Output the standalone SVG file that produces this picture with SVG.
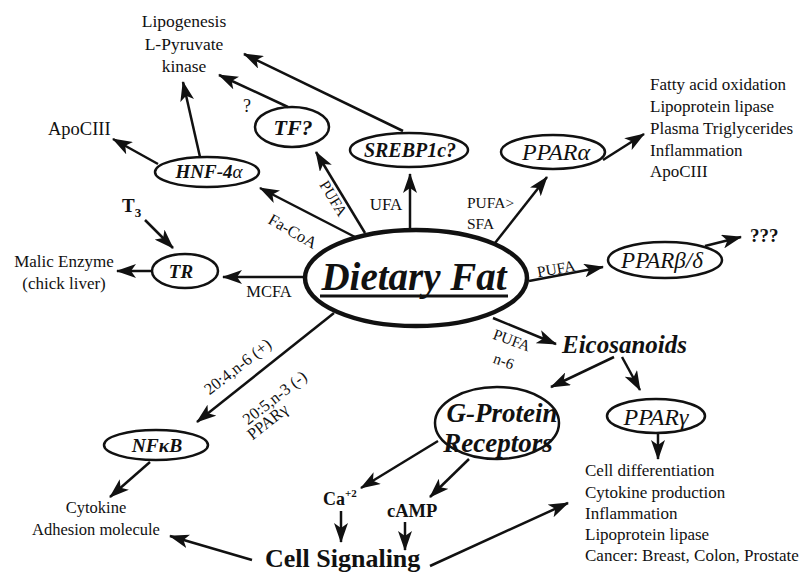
<svg xmlns="http://www.w3.org/2000/svg" width="804" height="574" viewBox="0 0 804 574">
<style>
text{font-family:"Liberation Serif",serif;fill:#111}
.n{fill:none;stroke:#111;stroke-width:2.5}
.l{stroke:#111;stroke-width:2.5;fill:none;marker-end:url(#ah)}
.bi{font-weight:bold;font-style:italic}
.i{font-style:italic}
.b{font-weight:bold}
.m{text-anchor:middle}
.lab{font-size:15.5px}
.lst{font-size:17px}
</style>
<defs>
<marker id="ah" viewBox="0 0 20 14" refX="19" refY="7" markerWidth="20" markerHeight="14" orient="auto" markerUnits="userSpaceOnUse">
<path d="M0,0 L20,7 L0,14 L5,7 Z" fill="#111"/>
</marker>
</defs>
<rect width="804" height="574" fill="#fff"/>

<g id="connectors">
<line class="l" x1="365" y1="233" x2="316" y2="152"/>
<line class="l" x1="355" y1="237" x2="260" y2="188"/>
<line class="l" x1="410" y1="230" x2="410" y2="174"/>
<line class="l" x1="495" y1="243" x2="547" y2="177"/>
<line class="l" x1="529" y1="281" x2="603" y2="267"/>
<line class="l" x1="493" y1="318" x2="556" y2="344"/>
<line class="l" x1="305" y1="277" x2="223" y2="277"/>
<line class="l" x1="334" y1="313" x2="197" y2="422"/>
<line class="l" x1="403" y1="131" x2="244" y2="54"/>
<line class="l" x1="288" y1="107" x2="219" y2="75"/>
<line class="l" x1="200" y1="157" x2="183" y2="82"/>
<line class="l" x1="158" y1="164" x2="113" y2="139"/>
<line class="l" x1="145" y1="220" x2="173" y2="248"/>
<line class="l" x1="152" y1="271" x2="117" y2="271"/>
<line class="l" x1="603" y1="160" x2="644" y2="134"/>
<line class="l" x1="705" y1="246" x2="741" y2="237"/>
<line class="l" x1="614" y1="357" x2="551" y2="387"/>
<line class="l" x1="622" y1="357" x2="640" y2="390"/>
<line class="l" x1="658" y1="433" x2="658" y2="459"/>
<line class="l" x1="150" y1="462" x2="110" y2="497"/>
<line class="l" x1="438" y1="441" x2="361" y2="488"/>
<line class="l" x1="469" y1="459" x2="430" y2="497"/>
<line class="l" x1="341" y1="511" x2="341" y2="542"/>
<line class="l" x1="405" y1="522" x2="405" y2="550"/>
<line class="l" x1="252" y1="560" x2="170" y2="536"/>
<line class="l" x1="430" y1="566" x2="568" y2="503"/>
</g>

<g id="labels">
<text class="lab" transform="translate(329,201) rotate(59)" text-anchor="middle">PUFA</text>
<text font-size="16.5" transform="translate(290,236) rotate(30)" text-anchor="middle">Fa-CoA</text>
<text font-size="17" x="386" y="210" text-anchor="middle">UFA</text>
<text class="lab" x="467" y="208">PUFA&gt;</text>
<text class="lab" x="467" y="229">SFA</text>
<text class="lab" transform="translate(557,274) rotate(-10)" text-anchor="middle">PUFA</text>
<text class="lab" transform="translate(510,345) rotate(20)" text-anchor="middle">PUFA</text>
<text class="lab" transform="translate(502,366) rotate(20)" text-anchor="middle">n-6</text>
<text font-size="16.5" x="269" y="297" text-anchor="middle">MCFA</text>
<text font-size="16.5" transform="translate(241,371) rotate(-38)" text-anchor="middle">20:4,n-6 (+)</text>
<text font-size="16.5" transform="translate(278,402) rotate(-38)" text-anchor="middle">20:5,n-3 (-)</text>
<text font-size="16.5" transform="translate(271,426) rotate(-38)" text-anchor="middle">PPARγ</text>
<text font-size="18" x="247" y="112" text-anchor="middle">?</text>
</g>

<g id="dietary-fat">
<ellipse cx="416" cy="278" rx="111" ry="48" fill="none" stroke="#111" stroke-width="4.5"/>
<text class="bi" font-size="39" x="414" y="290" text-anchor="middle">Dietary Fat</text>
<line x1="320" y1="296" x2="508" y2="296" stroke="#111" stroke-width="3"/>
</g>

<g id="srebp">
<ellipse class="n" cx="409" cy="150" rx="59" ry="17"/>
<text class="bi m" font-size="20" x="410" y="157">SREBP1c?</text>
</g>

<g id="tf">
<ellipse class="n" cx="292" cy="127" rx="37" ry="20"/>
<text class="bi m" font-size="22" x="293" y="135">TF?</text>
</g>

<g id="hnf">
<ellipse class="n" cx="207" cy="172" rx="52" ry="15"/>
<text class="bi m" font-size="19" x="209" y="178">HNF-4<tspan font-weight="normal">α</tspan></text>
</g>

<g id="ppara">
<ellipse class="n" cx="553" cy="152" rx="52" ry="17"/>
<text class="i m" font-size="24" x="556" y="160">PPARα</text>
</g>

<g id="tr">
<ellipse class="n" cx="185" cy="271" rx="33" ry="17"/>
<text class="bi m" font-size="19" x="181" y="278">TR</text>
</g>

<g id="pparbd">
<ellipse class="n" cx="665" cy="260" rx="57" ry="18"/>
<text class="i m" font-size="23" x="662" y="268">PPARβ/δ</text>
</g>

<g id="nfkb">
<ellipse class="n" cx="156" cy="445" rx="52" ry="15"/>
<text class="bi m" font-size="19.5" x="157" y="452">NFκB</text>
</g>

<g id="gprotein">
<ellipse class="n" cx="497" cy="423" rx="62" ry="36"/>
<text class="bi m" font-size="27" x="502" y="422">G-Protein</text>
<text class="bi m" font-size="27" x="498" y="452">Receptors</text>
</g>

<g id="pparg">
<ellipse class="n" cx="656" cy="416" rx="49" ry="17"/>
<text class="i m" font-size="24" x="656" y="425">PPARγ</text>
</g>

<g id="eicosanoids">
<text class="bi" font-size="25" x="562" y="353">Eicosanoids</text>
</g>

<g id="lipogenesis">
<text class="m" font-size="17.5" x="184" y="27">Lipogenesis</text>
<text class="m" font-size="17.5" x="184" y="50">L-Pyruvate</text>
<text class="m" font-size="17.5" x="184" y="72">kinase</text>
</g>

<g id="apociii-left">
<text font-size="18.5" x="48" y="135">ApoCIII</text>
</g>

<g id="t3">
<text class="b" font-size="19" x="122" y="212">T<tspan font-size="13" dy="5">3</tspan></text>
</g>

<g id="malic">
<text class="m" font-size="17" x="64" y="267">Malic Enzyme</text>
<text class="m" font-size="17" x="64" y="289">(chick liver)</text>
</g>

<g id="ppara-effects">
<text class="lst" x="650" y="90">Fatty acid oxidation</text>
<text class="lst" x="650" y="112">Lipoprotein lipase</text>
<text class="lst" x="650" y="134">Plasma Triglycerides</text>
<text class="lst" x="650" y="156">Inflammation</text>
<text class="lst" x="650" y="177">ApoCIII</text>
</g>

<g id="unknown">
<text class="b" font-size="19" x="750" y="242">???</text>
</g>

<g id="cytokine">
<text class="m" font-size="16.5" x="96" y="513">Cytokine</text>
<text class="m" font-size="16.5" x="96" y="535">Adhesion molecule</text>
</g>

<g id="ca">
<text class="b" font-size="18" x="323" y="505">Ca<tspan font-size="11" dy="-8">+2</tspan></text>
</g>

<g id="camp">
<text class="b" font-size="18.5" x="387" y="517">cAMP</text>
</g>

<g id="cell-signaling">
<text class="b" font-size="26" x="265" y="567">Cell Signaling</text>
</g>

<g id="pparg-effects">
<text class="lst" x="585" y="476">Cell differentiation</text>
<text class="lst" x="585" y="498">Cytokine production</text>
<text class="lst" x="585" y="519">Inflammation</text>
<text class="lst" x="585" y="540">Lipoprotein lipase</text>
<text class="lst" x="585" y="561">Cancer: Breast, Colon, Prostate</text>
</g>
</svg>
